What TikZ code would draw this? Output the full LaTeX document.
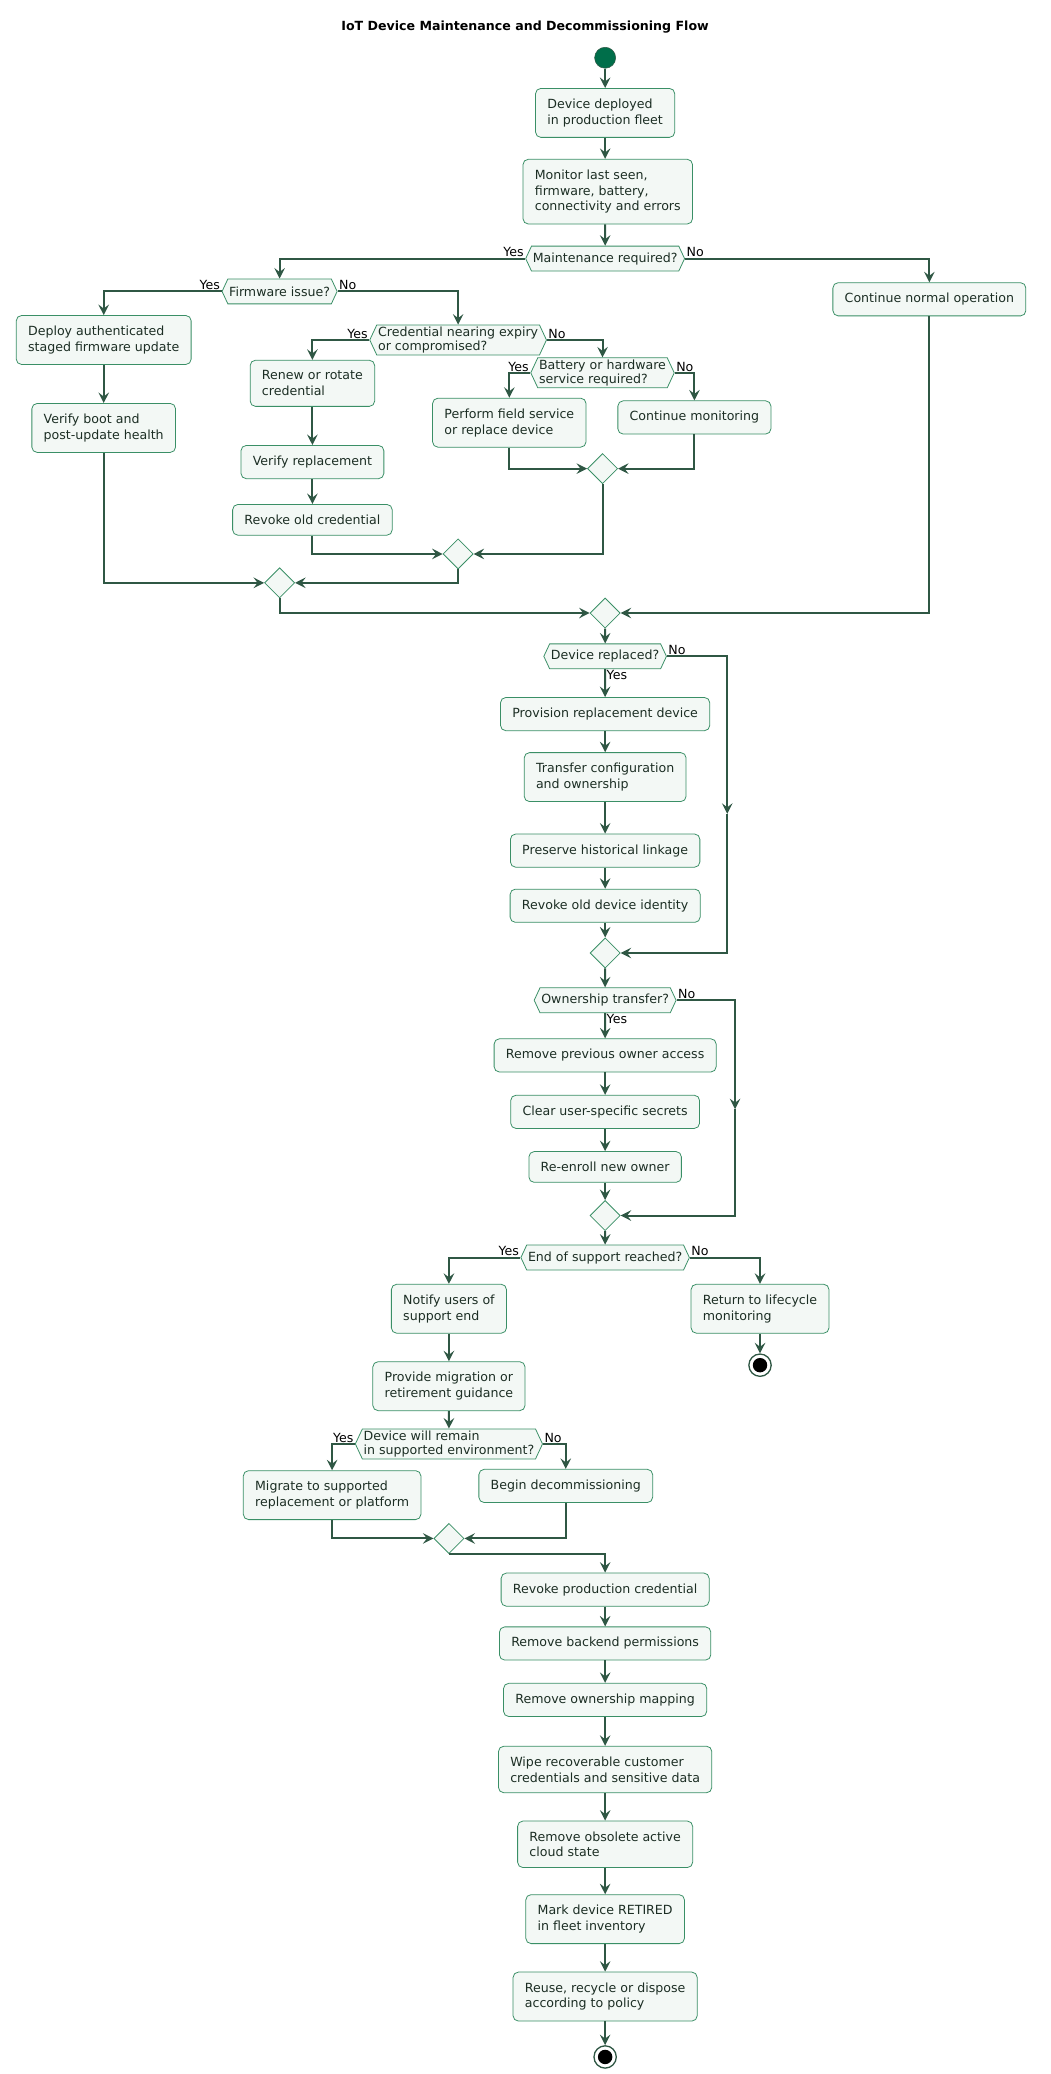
\documentclass[tikz,border=0pt]{standalone}
\usepackage{fontspec}
\setmainfont{DejaVu Sans}
\usetikzlibrary{shapes.geometric,shapes.symbols,arrows.meta}
\definecolor{boxfill}{HTML}{F3F8F5}
\definecolor{boxline}{HTML}{3A8F66}
\definecolor{flowline}{HTML}{2F5744}
\definecolor{boxtext}{HTML}{1C2E24}
\definecolor{startfill}{HTML}{006E4A}
\tikzset{
  box/.style={draw=boxline,fill=boxfill,rounded corners=4pt,align=left,text=boxtext,
    font=\fontsize{9.6}{12}\selectfont,inner xsep=9pt,inner ysep=8pt,line width=0.6pt},
  dec/.style={draw=boxline,fill=boxfill,signal,signal to=west and east,signal pointer angle=130,
    align=left,text=boxtext,font=\fontsize{9.6}{10.5}\selectfont,inner xsep=1pt,inner ysep=1.5pt,
    minimum height=19pt,line width=0.6pt},
  merge/.style={draw=boxline,fill=boxfill,diamond,minimum width=23pt,minimum height=23pt,inner sep=0pt,line width=0.6pt},
  flow/.style={draw=flowline,line width=1.5pt,-{Stealth[length=8pt,width=8pt,inset=3pt]}},
  lbl/.style={font=\fontsize{9.6}{10}\selectfont,inner sep=1pt}
}
\begin{document}
\begin{tikzpicture}[x=1pt,y=1pt,yscale=-1]
\useasboundingbox (0,0) rectangle (800,1580);
\node[font=\bfseries\fontsize{9.6}{11}\selectfont] (title) at (400,21) {IoT Device Maintenance and Decommissioning Flow};
% start
\node[circle,fill=startfill,draw=flowline,minimum size=16pt,inner sep=0pt] (start) at (461,44) {};
\node[box] (deploy) at (461,86) {Device deployed\\in production fleet};
\node[box] (monitor) at (463,146) {Monitor last seen,\\firmware, battery,\\connectivity and errors};
\node[dec] (maint) at (461,197) {Maintenance required?};
\node[box] (normal) at (708,228) {Continue normal operation};
% maintenance branches
\node[dec] (fw) at (213,222) {Firmware issue?};
\node[box] (fwupd) at (79,259) {Deploy authenticated\\staged firmware update};
\node[box] (fwchk) at (79,326) {Verify boot and\\post-update health};
\node[dec] (cred) at (349,259) {Credential nearing expiry\\or compromised?};
\node[box] (renew) at (238,292) {Renew or rotate\\credential};
\node[box] (verify) at (238,352) {Verify replacement};
\node[box] (revoke) at (238,396) {Revoke old credential};
\node[dec] (batt) at (459,284) {Battery or hardware\\service required?};
\node[box] (field) at (388,322) {Perform field service\\or replace device};
\node[box] (contmon) at (529,318) {Continue monitoring};
\node[merge] (m4) at (459,357) {};
\node[merge] (m3) at (349,422) {};
\node[merge] (m2) at (213,444) {};
\node[merge] (m1) at (461,467) {};
% replacement
\node[dec] (repl) at (461,500) {Device replaced?};
\node[box] (prov) at (461,544) {Provision replacement device};
\node[box] (xfer) at (461,592) {Transfer configuration\\and ownership};
\node[box] (link) at (461,648) {Preserve historical linkage};
\node[box] (oldid) at (461,690) {Revoke old device identity};
\node[merge] (m5) at (461,726) {};
\coordinate (replno) at (554,620);
% ownership
\node[dec] (own) at (461,762) {Ownership transfer?};
\node[box] (prev) at (461,804) {Remove previous owner access};
\node[box] (clear) at (461,847) {Clear user-specific secrets};
\node[box] (enroll) at (461,889) {Re-enroll new owner};
\node[merge] (m6) at (461,926) {};
\coordinate (ownno) at (560,845);
% end of support
\node[dec] (eos) at (461,958) {End of support reached?};
\node[box] (notify) at (342,997) {Notify users of\\support end};
\node[box] (back) at (579,997) {Return to lifecycle\\monitoring};
\node[circle,draw=flowline,line width=1pt,minimum size=17pt,inner sep=0pt] (stopa) at (579,1040) {};
\node[circle,fill=black,minimum size=11pt,inner sep=0pt] at (stopa) {};
\node[box] (guide) at (342,1056) {Provide migration or\\retirement guidance};
\node[dec] (remain) at (342,1100) {Device will remain\\in supported environment?};
\node[box] (migrate) at (253,1139) {Migrate to supported\\replacement or platform};
\node[box] (decom) at (431,1132) {Begin decommissioning};
\node[merge] (m8) at (342,1172) {};
% decommissioning
\node[box] (rprod) at (461,1211) {Revoke production credential};
\node[box] (rback) at (461,1252) {Remove backend permissions};
\node[box] (rmap) at (461,1295) {Remove ownership mapping};
\node[box] (wipe) at (461,1348) {Wipe recoverable customer\\credentials and sensitive data};
\node[box] (cloud) at (461,1405) {Remove obsolete active\\cloud state};
\node[box] (mark) at (461,1462) {Mark device RETIRED\\in fleet inventory};
\node[box] (reuse) at (461,1521) {Reuse, recycle or dispose\\according to policy};
\node[circle,draw=flowline,line width=1pt,minimum size=17pt,inner sep=0pt] (stopb) at (461,1567) {};
\node[circle,fill=black,minimum size=11pt,inner sep=0pt] at (stopb) {};
% labels
\node[lbl,anchor=south east] at (maint.west) {Yes};
\node[lbl,anchor=south west] at (maint.east) {No};
\node[lbl,anchor=south east] at (fw.west) {Yes};
\node[lbl,anchor=south west] at (fw.east) {No};
\node[lbl,anchor=south east] at (cred.west) {Yes};
\node[lbl,anchor=south west] at (cred.east) {No};
\node[lbl,anchor=south east] at (batt.west) {Yes};
\node[lbl,anchor=south west] at (batt.east) {No};
\node[lbl,anchor=north west] at (repl.south) {Yes};
\node[lbl,anchor=south west] at (repl.east) {No};
\node[lbl,anchor=north west] at (own.south) {Yes};
\node[lbl,anchor=south west] at (own.east) {No};
\node[lbl,anchor=south east] at (eos.west) {Yes};
\node[lbl,anchor=south west] at (eos.east) {No};
\node[lbl,anchor=south east] at (remain.west) {Yes};
\node[lbl,anchor=south west] at (remain.east) {No};
% connectors
\draw[flow] (start) -- (deploy);
\draw[flow] (deploy) -- (deploy|-monitor.north);
\draw[flow] (monitor.south-|maint) -- (maint);
\draw[flow] (maint.west) -| (fw.north);
\draw[flow] (maint.east) -| (normal.north);
\draw[flow] (fw.west) -| (fwupd.north);
\draw[flow] (fwupd) -- (fwchk);
\draw[flow] (fw.east) -| (cred.north);
\draw[flow] (cred.west) -| (renew.north);
\draw[flow] (renew) -- (verify);
\draw[flow] (verify) -- (revoke);
\draw[flow] (cred.east) -| (batt.north);
\draw[flow] (batt.west) -| (field.north);
\draw[flow] (batt.east) -| (contmon.north);
\draw[flow] (field.south) |- (m4.west);
\draw[flow] (contmon.south) |- (m4.east);
\draw[flow] (m4.south) |- (m3.east);
\draw[flow] (revoke.south) |- (m3.west);
\draw[flow] (m3.south) |- (m2.east);
\draw[flow] (fwchk.south) |- (m2.west);
\draw[flow] (m2.south) |- (m1.west);
\draw[flow] (normal.south) |- (m1.east);
\draw[flow] (m1) -- (repl);
\draw[flow] (repl) -- (prov);
\draw[flow] (prov) -- (xfer);
\draw[flow] (xfer) -- (link);
\draw[flow] (link) -- (oldid);
\draw[flow] (oldid) -- (m5);
\draw[flow] (repl.east) -| (replno);
\draw[flow] (replno) |- (m5.east);
\draw[flow] (m5) -- (own);
\draw[flow] (own) -- (prev);
\draw[flow] (prev) -- (clear);
\draw[flow] (clear) -- (enroll);
\draw[flow] (enroll) -- (m6);
\draw[flow] (own.east) -| (ownno);
\draw[flow] (ownno) |- (m6.east);
\draw[flow] (m6) -- (eos);
\draw[flow] (eos.west) -| (notify.north);
\draw[flow] (eos.east) -| (back.north);
\draw[flow] (back) -- (stopa);
\draw[flow] (notify) -- (guide);
\draw[flow] (guide) -- (remain);
\draw[flow] (remain.west) -| (migrate.north);
\draw[flow] (remain.east) -| (decom.north);
\draw[flow] (migrate.south) |- (m8.west);
\draw[flow] (decom.south) |- (m8.east);
\draw[flow] (m8.south) -| (rprod.north);
\draw[flow] (rprod) -- (rback);
\draw[flow] (rback) -- (rmap);
\draw[flow] (rmap) -- (wipe);
\draw[flow] (wipe) -- (cloud);
\draw[flow] (cloud) -- (mark);
\draw[flow] (mark) -- (reuse);
\draw[flow] (reuse) -- (stopb);
\end{tikzpicture}
\end{document}
